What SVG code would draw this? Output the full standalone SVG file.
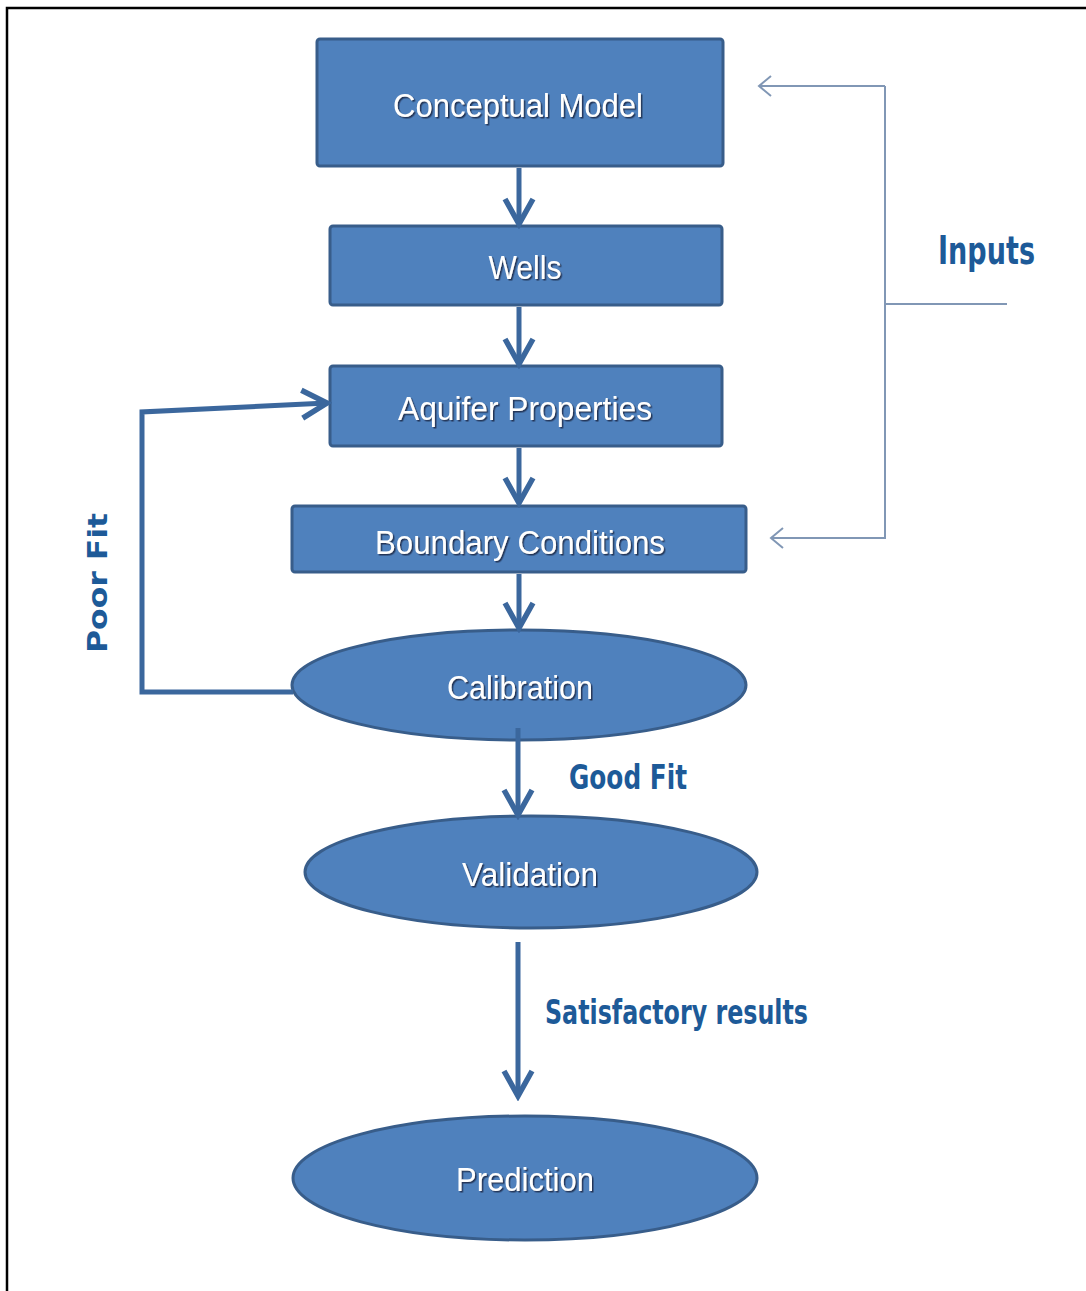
<svg xmlns="http://www.w3.org/2000/svg" width="1086" height="1291" viewBox="0 0 1086 1291">
  <defs>
    <style>
      .box { fill: #4f81bd; stroke: #385d8a; stroke-width: 3; }
      .ntext { fill: #ffffff; font-family: "Liberation Sans", Arial, sans-serif; font-size: 34px; text-anchor: middle; filter: url(#ts); }
      .flow { stroke: #3b679d; stroke-width: 5; fill: none; marker-end: url(#thick); }
      .thin { stroke: #8197b5; stroke-width: 2; fill: none; }
      .lbl { fill: #1d5a98; font-family: "Liberation Sans Narrow", "DejaVu Sans Condensed", "Liberation Sans", sans-serif; font-weight: bold; }
    </style>
    <filter id="ts" x="-10%" y="-30%" width="120%" height="160%">
      <feDropShadow dx="1.5" dy="1.5" stdDeviation="0.7" flood-color="#1b2f4e" flood-opacity="0.9"/>
    </filter>
    <marker id="thick" viewBox="0 0 34 34" refX="29" refY="17" markerWidth="34" markerHeight="34" markerUnits="userSpaceOnUse" orient="auto">
      <path d="M 4,3 L 29,17 L 4,31" fill="none" stroke="#3b679d" stroke-width="5.5" stroke-linejoin="miter"/>
    </marker>
    <marker id="thinarrow" viewBox="0 0 16 24" refX="14" refY="12" markerWidth="16" markerHeight="24" markerUnits="userSpaceOnUse" orient="auto">
      <path d="M 2,2 L 14,12 L 2,22" fill="none" stroke="#8197b5" stroke-width="2"/>
    </marker>
  </defs>

  <rect width="1086" height="1291" fill="#ffffff"/>
  <path d="M 7,1291 L 7,8 L 1086,8" fill="none" stroke="#000000" stroke-width="2.5"/>

  <g id="node-conceptual-model">
    <rect class="box" x="317" y="39" width="406" height="127" rx="3"/>
    <text class="ntext" x="518" y="117" textLength="250" lengthAdjust="spacingAndGlyphs">Conceptual  Model</text>
  </g>
  <g id="node-wells">
    <rect class="box" x="330" y="226" width="392" height="79" rx="3"/>
    <text class="ntext" x="525" y="279" textLength="73" lengthAdjust="spacingAndGlyphs">Wells</text>
  </g>
  <g id="node-aquifer-properties">
    <rect class="box" x="330" y="366" width="392" height="80" rx="3"/>
    <text class="ntext" x="525" y="420" textLength="254" lengthAdjust="spacingAndGlyphs">Aquifer Properties</text>
  </g>
  <g id="node-boundary-conditions">
    <rect class="box" x="292" y="506" width="454" height="66" rx="3"/>
    <text class="ntext" x="520" y="554" textLength="290" lengthAdjust="spacingAndGlyphs">Boundary  Conditions</text>
  </g>
  <g id="node-calibration">
    <ellipse class="box" cx="519" cy="685" rx="227" ry="55"/>
    <text class="ntext" x="520" y="699" textLength="146" lengthAdjust="spacingAndGlyphs">Calibration</text>
  </g>
  <g id="node-validation">
    <ellipse class="box" cx="531" cy="872" rx="226" ry="56"/>
    <text class="ntext" x="530" y="886" textLength="136" lengthAdjust="spacingAndGlyphs">Validation</text>
  </g>
  <g id="node-prediction">
    <ellipse class="box" cx="525" cy="1178" rx="232" ry="62"/>
    <text class="ntext" x="525" y="1191" textLength="138" lengthAdjust="spacingAndGlyphs">Prediction</text>
  </g>

  <g id="connectors">
    <line class="flow" x1="519" y1="168" x2="519" y2="224"/>
    <line class="flow" x1="519" y1="307" x2="519" y2="364"/>
    <line class="flow" x1="519" y1="448" x2="519" y2="503"/>
    <line class="flow" x1="519" y1="574" x2="519" y2="628"/>
    <line class="flow" x1="518" y1="728" x2="518" y2="815"/>
    <line class="flow" x1="518" y1="942" x2="518" y2="1096"/>
    <path class="flow" d="M 293,692 L 142,692 L 142,412 L 327,403"/>
    <g id="inputs-bracket">
      <path class="thin" d="M 885,86 L 759,86" marker-end="url(#thinarrow)"/>
      <path class="thin" d="M 885,86 L 885,538 L 771,538" marker-end="url(#thinarrow)"/>
      <line class="thin" x1="885" y1="304" x2="1007" y2="304"/>
    </g>
  </g>

  <g id="labels">
    <text class="lbl" x="938" y="264" font-size="39" textLength="97" lengthAdjust="spacingAndGlyphs">Inputs</text>
    <text class="lbl" x="569" y="789" font-size="34" textLength="118" lengthAdjust="spacingAndGlyphs">Good Fit</text>
    <text class="lbl" x="545" y="1024" font-size="34" textLength="263" lengthAdjust="spacingAndGlyphs">Satisfactory results</text>
    <text fill="#1d5a98" font-family="DejaVu Sans, Verdana, sans-serif" font-weight="bold" font-size="27" transform="translate(107,653) rotate(-90)" textLength="140" lengthAdjust="spacingAndGlyphs">Poor Fit</text>
  </g>
</svg>
